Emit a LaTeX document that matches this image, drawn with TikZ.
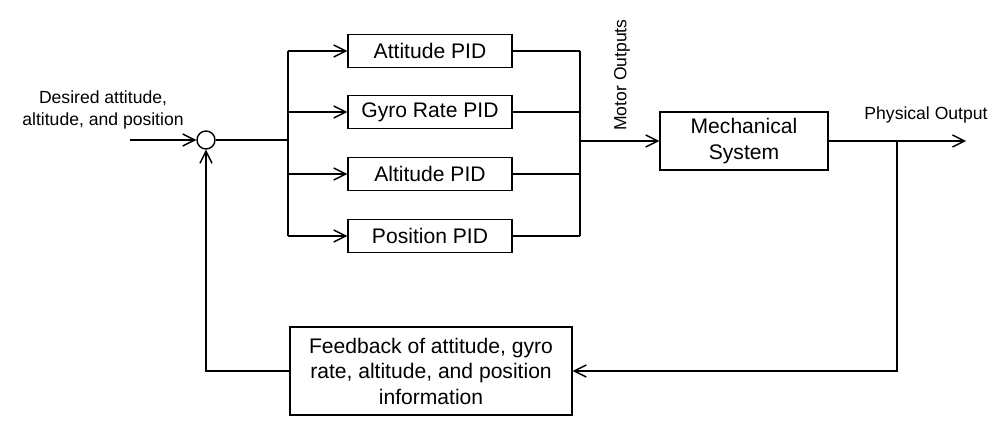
\documentclass[tikz,border=0pt]{standalone}
\usepackage{fontspec}
\setmainfont{Liberation Sans}
\usetikzlibrary{arrows.meta, positioning, calc}

\begin{document}
\begin{tikzpicture}[
    >={Straight Barb[length=2.4mm,width=2.4mm]},
    line width=0.8pt,
    pidbox/.style={draw, minimum width=3.28cm, minimum height=0.66cm,
                   font=\fontsize{12}{14}\selectfont, inner sep=2pt},
    sysbox/.style={draw, align=center, font=\fontsize{12}{14.5}\selectfont,
                   inner sep=2pt},
    lbl/.style={font=\fontsize{10}{12}\selectfont, align=center}
  ]
  \useasboundingbox (0,0) rectangle (20.12,-8.7);

  % input and summing junction
  \node[draw, circle, minimum size=0.36cm, inner sep=0pt] (sum) at (4.12,-2.8) {};
  \coordinate (in) at (2.6,-2.8);
  \node[lbl] (desired) at (2.06,-2.2) {Desired attitude,\\altitude, and position};
  \draw[->] (in) -- (sum);

  % controllers
  \node[pidbox] (att) at (8.6,-1.02) {Attitude PID};
  \node[pidbox] (gyro) at (8.6,-2.24) {Gyro Rate PID};
  \node[pidbox] (alt) at (8.6,-3.48) {Altitude PID};
  \node[pidbox] (pos) at (8.6,-4.72) {Position PID};

  \coordinate (busin) at (5.76,-2.8);
  \draw (sum) -- (busin);
  \draw (5.76,0 |- att) -- (5.76,0 |- pos);
  \foreach \pid in {att, gyro, alt, pos}
    \draw[->] (5.76,0 |- \pid) -- (\pid.west);

  \foreach \pid in {att, gyro, alt, pos}
    \draw (\pid.east) -- (11.6,0 |- \pid);
  \draw (11.6,0 |- att) -- (11.6,0 |- pos);

  % plant
  \node[sysbox, minimum width=3.36cm, minimum height=1.16cm] (mech)
    at (14.88,-2.82) {Mechanical\\System};
  \draw[->] (11.6,0 |- mech) -- (mech.west);
  \node[lbl, rotate=90] (motor) at (12.44,-1.5) {Motor Outputs};

  \coordinate (out) at (19.32,-2.82);
  \coordinate (branch) at (17.94,-2.82);
  \draw[->] (mech) -- (out);
  \node[lbl] (phys) at (18.52,-2.3) {Physical Output};

  % feedback path
  \node[sysbox, minimum width=5.64cm, minimum height=1.76cm] (fb)
    at (8.62,-7.42) {Feedback of attitude, gyro\\rate, altitude, and position\\information};
  \draw[->] (branch) |- (fb.east);
  \draw[->] (fb.west) -| (sum.south);
\end{tikzpicture}
\end{document}
